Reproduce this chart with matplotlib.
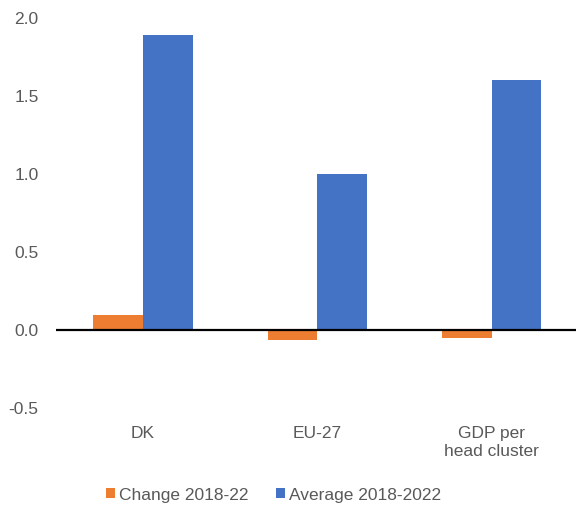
import matplotlib
matplotlib.use("Agg")
import matplotlib.pyplot as plt
import numpy as np

categories = ["DK", "EU-27", "GDP per\nhead cluster"]
change = [0.10, -0.06, -0.05]
average = [1.89, 1.00, 1.60]
series_names = ["Change 2018-22", "Average 2018-2022"]
colors = ["#ED7D31", "#4472C4"]

plt.rcParams["font.family"] = ["Liberation Sans", "DejaVu Sans"]

fig = plt.figure(figsize=(5.76, 5.09), dpi=100)
ax = fig.add_axes([0.097, 0.198, 0.908, 0.767])

x = np.arange(len(categories))
w = 0.285
ax.bar(x - w / 2, change, w, color=colors[0], label=series_names[0])
ax.bar(x + w / 2, average, w, color=colors[1], label=series_names[1])

ax.axhline(0, color="black", linewidth=1.6, zorder=3)
ax.set_xlim(-0.5, 2.5)
ax.set_ylim(-0.5, 2.0)
ticks = np.arange(-0.5, 2.01, 0.5)
ax.set_yticks(ticks)
ax.set_yticklabels([f"{v:.1f}" for v in ticks])
ax.set_xticks(x)
ax.set_xticklabels(categories, linespacing=1.25)
for s in ax.spines.values():
    s.set_visible(False)
ax.tick_params(axis="both", length=0, labelsize=12.5, colors="#595959")
ax.tick_params(axis="y", pad=12.5)
ax.tick_params(axis="x", pad=12.5)

fig.legend(loc="lower center", bbox_to_anchor=(0.475, -0.018), ncol=2, frameon=False,
           fontsize=12.5, labelcolor="#595959", handlelength=0.5, handleheight=0.5,
           handletextpad=0.25, columnspacing=1.6)

fig.savefig("out.png", dpi=100)
